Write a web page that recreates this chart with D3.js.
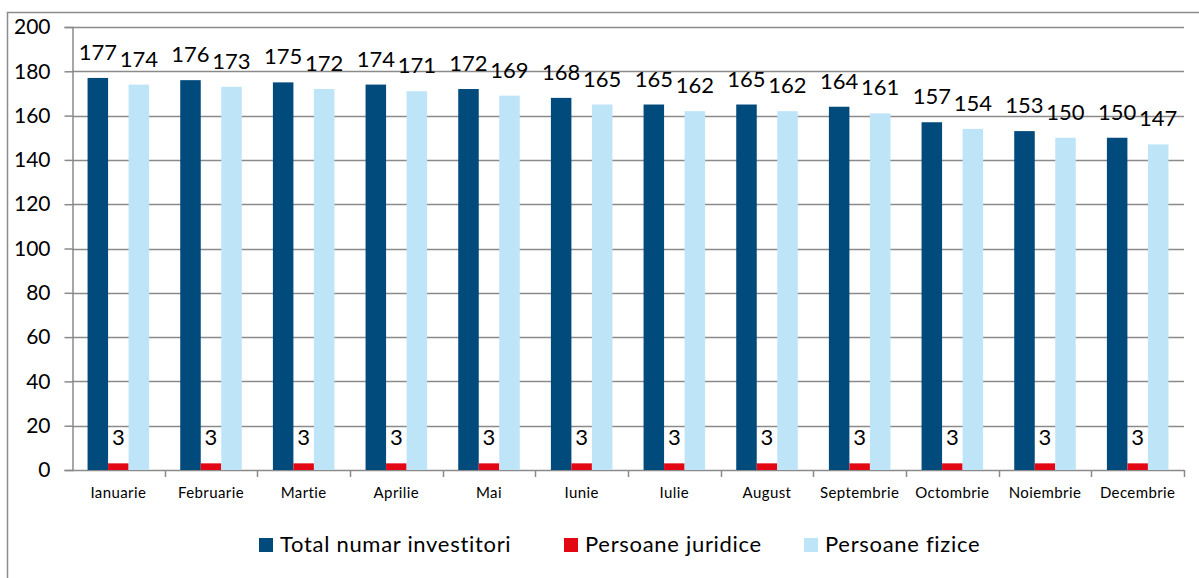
<!DOCTYPE html>
<html>
<head>
<meta charset="utf-8">
<script src="https://cdn.jsdelivr.net/npm/d3@7"></script>
<style>
  html, body { margin: 0; padding: 0; background: #fff; }
  svg { display: block; font-family: Lato, "Noto Sans", sans-serif; }
</style>
</head>
<body>
<div id="chart"></div>
<script>
// categories and series
const months = ['Ianuarie', 'Februarie', 'Martie', 'Aprilie', 'Mai', 'Iunie',
                'Iulie', 'August', 'Septembrie', 'Octombrie', 'Noiembrie', 'Decembrie'];
const seriesNames = ['Total numar investitori', 'Persoane juridice', 'Persoane fizice'];
const totalInvestitori = [177, 176, 175, 174, 172, 168, 165, 165, 164, 157, 153, 150];
const persoaneJuridice = [3, 3, 3, 3, 3, 3, 3, 3, 3, 3, 3, 3];
const persoaneFizice = [174, 173, 172, 171, 169, 165, 162, 162, 161, 154, 150, 147];
const yTicks = [0, 20, 40, 60, 80, 100, 120, 140, 160, 180, 200];

const colors = ['#004A7C', '#E30613', '#BEE4F8'];
const seriesValues = [totalInvestitori, persoaneJuridice, persoaneFizice];

const width = 1199, height = 578;
const plot = { left: 72, right: 1184, top: 27, bottom: 470 };
const grey = '#8a8a8a';

const svg = d3.select('#chart').append('svg')
  .attr('width', width).attr('height', height);

svg.append('rect').attr('width', width).attr('height', height).attr('fill', '#fff');

// outer chart border
svg.append('rect')
  .attr('x', 7.5).attr('y', 12.5)
  .attr('width', width).attr('height', height)
  .attr('fill', 'none').attr('stroke', '#8c8c8c').attr('stroke-width', 1.5);

const y = d3.scaleLinear().domain([0, 200]).range([plot.bottom, plot.top]);
const x0 = d3.scaleBand().domain(months).range([plot.left, plot.right]).padding(0);
const groupPad = x0.bandwidth() * 0.168;
const x1 = d3.scaleBand().domain(seriesNames)
  .range([groupPad, x0.bandwidth() - groupPad]).padding(0);

// gridlines
svg.append('g')
  .selectAll('line')
  .data(yTicks.filter(d => d > 0))
  .join('line')
  .attr('x1', plot.left).attr('x2', plot.right)
  .attr('y1', d => Math.round(y(d)) + 0.5).attr('y2', d => Math.round(y(d)) + 0.5)
  .attr('stroke', grey).attr('stroke-width', 1.5);

// y axis
const yAxis = svg.append('g')
  .attr('transform', `translate(${plot.left + 0.5},0)`)
  .call(d3.axisLeft(y).tickValues(yTicks).tickSize(8).tickPadding(14));
yAxis.select('.domain').attr('stroke', grey).attr('stroke-width', 1.5);
yAxis.selectAll('.tick line').attr('stroke', grey).attr('stroke-width', 1.5);
yAxis.selectAll('.tick text')
  .attr('font-size', 21).attr('fill', '#000')
  .attr('font-family', 'Lato, "Noto Sans", sans-serif');

// x axis line and ticks between categories
const xg = svg.append('g');
xg.append('line')
  .attr('x1', plot.left).attr('x2', plot.right)
  .attr('y1', plot.bottom + 0.5).attr('y2', plot.bottom + 0.5)
  .attr('stroke', grey).attr('stroke-width', 1.5);
xg.selectAll('line.tk')
  .data(months)
  .join('line')
  .attr('class', 'tk')
  .attr('x1', d => Math.round(x0(d) + x0.bandwidth()) + 0.5)
  .attr('x2', d => Math.round(x0(d) + x0.bandwidth()) + 0.5)
  .attr('y1', plot.bottom).attr('y2', plot.bottom + 7)
  .attr('stroke', grey).attr('stroke-width', 1.5);
xg.selectAll('text')
  .data(months)
  .join('text')
  .attr('x', d => x0(d) + x0.bandwidth() / 2)
  .attr('y', 498)
  .attr('text-anchor', 'middle')
  .attr('font-size', 15)
  .attr('letter-spacing', 0.4)
  .attr('fill', '#000')
  .text(d => d);

// bars
const rows = months.map((m, i) => ({
  month: m,
  values: seriesNames.map((s, k) => ({ series: s, k: k, value: seriesValues[k][i] }))
}));

const groups = svg.append('g')
  .selectAll('g')
  .data(rows)
  .join('g')
  .attr('transform', d => `translate(${x0(d.month)},0)`);

groups.selectAll('rect')
  .data(d => d.values)
  .join('rect')
  .attr('x', d => x1(d.series))
  .attr('width', x1.bandwidth())
  .attr('y', d => y(d.value))
  .attr('height', d => y(0) - y(d.value))
  .attr('fill', d => colors[d.k]);

groups.selectAll('text')
  .data(d => d.values)
  .join('text')
  .attr('x', d => x1(d.series) + x1.bandwidth() / 2)
  .attr('y', d => y(d.value) - 18)
  .attr('text-anchor', 'middle')
  .attr('font-size', 22)
  .attr('fill', '#000')
  .text(d => d.value);

// legend
const legendX = [259, 564, 804];
const legend = svg.append('g')
  .selectAll('g')
  .data(seriesNames)
  .join('g')
  .attr('transform', (d, i) => `translate(${legendX[i]},538)`);
legend.append('rect')
  .attr('width', 14).attr('height', 14)
  .attr('fill', (d, i) => colors[i]);
legend.append('text')
  .attr('x', 21).attr('y', 14)
  .attr('font-size', 22)
  .attr('letter-spacing', 0.7)
  .attr('fill', '#000')
  .text(d => d);
</script>
</body>
</html>
